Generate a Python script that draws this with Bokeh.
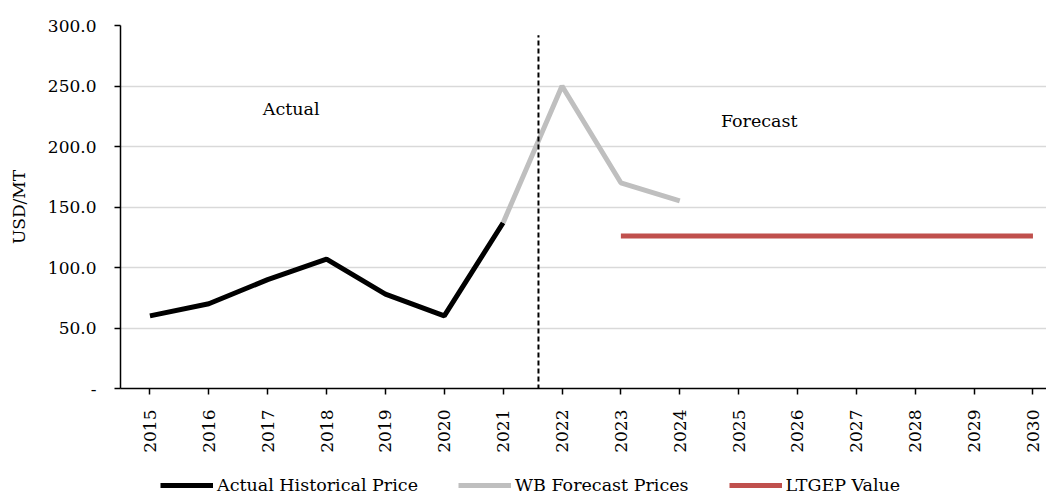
from bokeh.plotting import figure
from bokeh.layouts import column
from bokeh.models import (Range1d, FixedTicker, CustomJSTickFormatter, Legend, LegendItem,
                          Label, Arrow)
from bokeh.embed import file_html
from bokeh.resources import INLINE

years_actual = [2015, 2016, 2017, 2018, 2019, 2020, 2021]
actual_price = [60, 70, 90, 107, 78, 60, 137]
years_wb = [2021, 2022, 2023, 2024]
wb_price = [137, 250, 170, 155]
years_ltgep = [2023, 2030]
ltgep_value = [126, 126]
tick_years = list(range(2015, 2031))
y_ticks = [0, 50, 100, 150, 200, 250, 300]
divider_year = 2021.6
series_names = ["Actual Historical Price", "WB Forecast Prices", "LTGEP Value"]
series_colors = ["#000000", "#BFBFBF", "#C0504D"]

FONT = "DejaVu Serif"
W = 1046

p = figure(width=W, height=465, output_backend="svg", toolbar_location=None,
           x_range=Range1d(2014.5, 2030.23), y_range=Range1d(0, 300),
           min_border_left=120, min_border_right=0, min_border_top=25, min_border_bottom=77)
p.outline_line_color = None
p.xgrid.grid_line_color = None
p.ygrid.grid_line_color = "#D9D9D9"
p.ygrid.grid_line_width = 1.5

p.xaxis.ticker = FixedTicker(ticks=tick_years)
p.xaxis.major_label_orientation = 1.5708
p.xaxis.minor_tick_line_color = None
p.xaxis.major_tick_in = 0
p.xaxis.major_tick_out = 6
p.xaxis.axis_line_width = 1.5
p.xaxis.major_tick_line_width = 1.5
p.xaxis.major_label_text_font = FONT
p.xaxis.major_label_text_font_size = "17px"
p.xaxis.major_label_text_color = "#000000"
p.xaxis.major_label_standoff = 15

p.yaxis.ticker = FixedTicker(ticks=y_ticks)
p.yaxis.formatter = CustomJSTickFormatter(code="return tick == 0 ? '-' : tick.toFixed(1);")
p.yaxis.minor_tick_line_color = None
p.yaxis.major_tick_in = 0
p.yaxis.major_tick_out = 6
p.yaxis.axis_line_width = 1.5
p.yaxis.major_tick_line_width = 1.5
p.yaxis.major_label_text_font = FONT
p.yaxis.major_label_text_font_size = "17px"
p.yaxis.major_label_text_color = "#000000"
p.yaxis.major_label_standoff = 18
p.yaxis.axis_label = "USD/MT"
p.yaxis.axis_label_text_font = FONT
p.yaxis.axis_label_text_font_style = "normal"
p.yaxis.axis_label_text_font_size = "17px"
p.yaxis.axis_label_text_color = "#000000"
p.yaxis.axis_label_standoff = 16

p.line(years_actual, actual_price, line_color=series_colors[0], line_width=5)
p.line(years_wb, wb_price, line_color=series_colors[1], line_width=5)
p.line(years_ltgep, ltgep_value, line_color=series_colors[2], line_width=5)

p.add_layout(Arrow(end=None, x_start=divider_year, y_start=-14, x_end=divider_year, y_end=292,
                   line_color="#000000", line_width=2, line_dash="5 3"))

p.add_layout(Label(x=2017.4, y=231, text="Actual", text_font=FONT, text_font_size="17.5px",
                   text_align="center", text_baseline="middle", text_color="#000000"))
p.add_layout(Label(x=2025.35, y=221, text="Forecast", text_font=FONT, text_font_size="17.5px",
                   text_align="center", text_baseline="middle", text_color="#000000"))

# legend strip below the chart (placeholder renderers sit outside the visible range)
lg = figure(width=W, height=30, output_backend="svg", toolbar_location=None,
            x_range=Range1d(0, 1), y_range=Range1d(0, 1),
            x_axis_location=None, y_axis_location=None,
            min_border_left=0, min_border_right=0, min_border_top=0, min_border_bottom=0)
lg.grid.grid_line_color = None
lg.outline_line_color = None
items = []
for name, col in zip(series_names, series_colors):
    r = lg.line([5, 6], [5, 6], line_color=col, line_width=5)
    items.append(LegendItem(label=name, renderers=[r]))
legend = Legend(items=items, orientation="horizontal", location=(40, 0))
legend.border_line_color = None
legend.background_fill_alpha = 0
legend.label_text_font = FONT
legend.label_text_font_size = "17.5px"
legend.label_text_color = "#000000"
legend.glyph_width = 53
legend.label_standoff = 4
legend.spacing = 40
legend.padding = 0
legend.margin = 0
lg.add_layout(legend, "center")

layout = column(p, lg, spacing=0)
open("out.html", "w").write(file_html(layout, INLINE))
